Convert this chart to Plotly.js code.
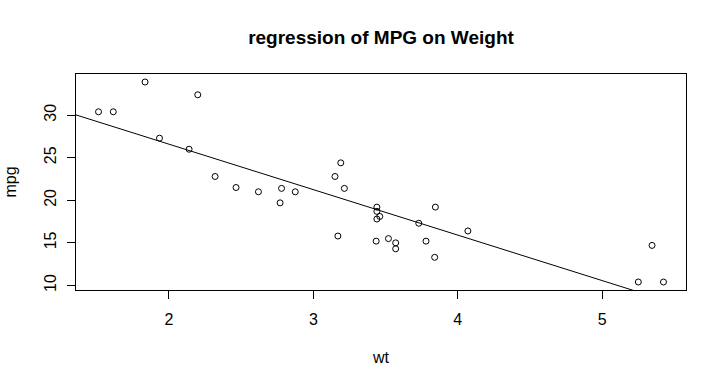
<!DOCTYPE html>
<html><head><meta charset="utf-8">
<script src="https://cdn.plot.ly/plotly-3.0.1.min.js"></script>
<style>html,body{margin:0;padding:0;background:#fff}#chart{width:724px;height:382px}</style>
</head><body><div id="chart"></div>
<script>
const wt = [2.620,2.875,2.320,3.215,3.440,3.460,3.570,3.190,3.150,3.440,3.440,4.070,3.730,3.780,5.250,5.424,5.345,2.200,1.615,1.835,2.465,3.520,3.435,3.840,3.845,1.935,2.140,1.513,3.170,2.770,3.570,2.780];
const mpg = [21.0,21.0,22.8,21.4,18.7,18.1,14.3,24.4,22.8,19.2,17.8,16.4,17.3,15.2,10.4,10.4,14.7,32.4,30.4,33.9,21.5,15.5,15.2,13.3,19.2,27.3,26.0,30.4,15.8,19.7,15.0,21.4];
const fitIntercept = 37.285;
const fitSlope = -5.344;
const xTicks = [2,3,4,5];
const yTicks = [10,15,20,25,30];

const xRange = [1.357, 5.580];
const yRange = [9.46, 34.84];
const lineX = [xRange[0], xRange[1]];
const lineY = lineX.map(x => fitIntercept + fitSlope * x);

const font = {family: 'Liberation Sans, Arial, sans-serif', size: 16, color: '#000'};
const data = [
  {x: wt, y: mpg, type: 'scatter', mode: 'markers', cliponaxis: false,
   marker: {symbol: 'circle-open', size: 6, color: '#000', line: {width: 1, color: '#000'}}, hoverinfo: 'skip'},
  {x: lineX, y: lineY, type: 'scatter', mode: 'lines', line: {color: '#000', width: 1}, hoverinfo: 'skip'}
];
const layout = {
  width: 724, height: 382, showlegend: false,
  paper_bgcolor: '#fff', plot_bgcolor: '#fff',
  margin: {l: 76, r: 38, t: 74, b: 92},
  font: font,
  title: {text: '<b>regression of MPG on Weight</b>', font: {family: 'Liberation Sans, Arial, sans-serif', size: 19, color: '#000'},
          x: 0.5, xanchor: 'center', y: 1 - 37/382, yanchor: 'middle', xref: 'paper'},
  xaxis: {range: xRange, tickvals: xTicks, ticktext: xTicks.map(String), ticks: 'outside', ticklen: 8, tickwidth: 1, tickcolor: '#000',
          showgrid: false, zeroline: false, showline: true, mirror: true, linecolor: '#000', linewidth: 1,
          ticklabelstandoff: 7, tickfont: font,
          title: {text: 'wt', font: font, standoff: 24}},
  yaxis: {range: yRange, tickvals: yTicks, ticktext: yTicks.map(String), ticks: 'outside', ticklen: 8, tickwidth: 1, tickcolor: '#000',
          showgrid: false, zeroline: false, showline: true, mirror: true, linecolor: '#000', linewidth: 1,
          tickangle: -90, ticklabelstandoff: 5, tickfont: font,
          title: {text: 'mpg', font: font, standoff: 20}}
};
Plotly.newPlot('chart', data, layout, {staticPlot: true, displayModeBar: false});
</script></body></html>
